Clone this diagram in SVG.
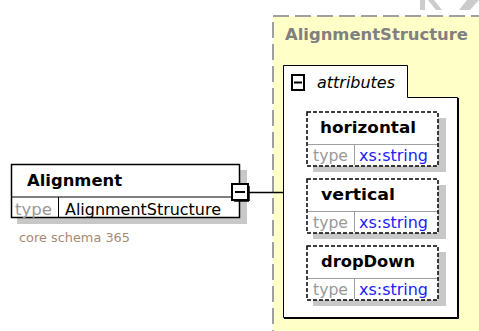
<svg xmlns="http://www.w3.org/2000/svg" width="479" height="331" viewBox="0 0 479 331">
<style>
.t{font-family:"DejaVu Sans",sans-serif}
.b{font-family:"DejaVu Sans",sans-serif;font-weight:bold;font-size:16.5px;fill:#000}
.r{font-family:"DejaVu Sans",sans-serif;font-size:16px}
.gray{fill:#999999}
.blue{fill:#2020ff}
.shadow{fill:#c8c8c8}
.attr{fill:#fff;stroke:#000;stroke-width:1.5;stroke-dasharray:4 2}
.div{stroke:#a0a0a0;stroke-width:1;fill:none}
</style>
<rect width="479" height="331" fill="#fff"/>
<g id="watermark" fill="#cccccc">
<rect x="420" y="0" width="5" height="10"/>
<polygon points="428,0 434,0 442,10 436,10"/>
<polygon points="467,0 479,0 470,10 459,10"/>
</g>
<g id="AlignmentStructure">
<rect x="273" y="16" width="220" height="330" fill="#ffffc8" stroke="#a0a0a0" stroke-width="2" stroke-dasharray="16 6"/>
<text class="b" x="285" y="40" style="fill:#808080" textLength="183" lengthAdjust="spacingAndGlyphs">AlignmentStructure</text>
</g>
<g id="attributes">
<path d="M283.5,65.5 H407.5 V97.5 H457.5 V317.5 H283.5 Z" fill="#fff" stroke="#000" stroke-width="1"/>
<path d="M458.5,98 V318.5 H284" fill="none" stroke="#000" stroke-width="1"/>
<rect x="292" y="75" width="12" height="15" fill="#fff" stroke="#000" stroke-width="2"/>
<line x1="294" y1="82.5" x2="302" y2="82.5" stroke="#000" stroke-width="2"/>
<text class="r" x="317" y="88" font-style="italic" textLength="78" lengthAdjust="spacingAndGlyphs">attributes</text>
</g>
<g id="horizontal">
<rect class="shadow" x="313" y="118" width="133" height="54"/>
<rect class="attr" x="307" y="112" width="131" height="54"/>
<line class="div" x1="308" y1="144.5" x2="437" y2="144.5"/>
<line class="div" x1="354.5" y1="145" x2="354.5" y2="165"/>
<text class="b" x="320" y="133" textLength="96" lengthAdjust="spacingAndGlyphs">horizontal</text>
<text class="r gray" x="313" y="161" textLength="35" lengthAdjust="spacingAndGlyphs">type</text>
<text class="r blue" x="359" y="161" textLength="69" lengthAdjust="spacingAndGlyphs">xs:string</text>
</g>
<g id="vertical">
<rect class="shadow" x="313" y="185" width="133" height="54"/>
<rect class="attr" x="307" y="179" width="131" height="54"/>
<line class="div" x1="308" y1="211.5" x2="437" y2="211.5"/>
<line class="div" x1="354.5" y1="212" x2="354.5" y2="232"/>
<text class="b" x="321" y="200" textLength="74" lengthAdjust="spacingAndGlyphs">vertical</text>
<text class="r gray" x="313" y="228" textLength="35" lengthAdjust="spacingAndGlyphs">type</text>
<text class="r blue" x="359" y="228" textLength="69" lengthAdjust="spacingAndGlyphs">xs:string</text>
</g>
<g id="dropDown">
<rect class="shadow" x="313" y="252" width="133" height="54"/>
<rect class="attr" x="307" y="246" width="131" height="54"/>
<line class="div" x1="308" y1="278.5" x2="437" y2="278.5"/>
<line class="div" x1="354.5" y1="279" x2="354.5" y2="299"/>
<text class="b" x="321" y="267" textLength="94" lengthAdjust="spacingAndGlyphs">dropDown</text>
<text class="r gray" x="313" y="295" textLength="35" lengthAdjust="spacingAndGlyphs">type</text>
<text class="r blue" x="359" y="295" textLength="69" lengthAdjust="spacingAndGlyphs">xs:string</text>
</g>
<g id="connectors">
<line x1="249" y1="192.5" x2="283" y2="192.5" stroke="#000" stroke-width="1.5"/>
</g>
<g id="Alignment">
<rect class="shadow" x="17" y="170" width="230" height="54"/>
<rect x="11.5" y="164.5" width="228" height="53" fill="#fff" stroke="#000" stroke-width="1.5"/>
<line x1="12" y1="197" x2="239" y2="197" stroke="#000" stroke-width="1"/>
<line x1="58.5" y1="197" x2="58.5" y2="217" stroke="#000" stroke-width="1"/>
<text class="b" x="27" y="186" textLength="95" lengthAdjust="spacingAndGlyphs">Alignment</text>
<text class="r gray" x="15" y="215" textLength="37" lengthAdjust="spacingAndGlyphs">type</text>
<text class="r" x="65" y="215" textLength="156" lengthAdjust="spacingAndGlyphs">AlignmentStructure</text>
<rect x="232" y="184" width="16" height="16" fill="#fff" stroke="#000" stroke-width="2"/>
<line x1="249" y1="186" x2="249" y2="201" stroke="#000" stroke-width="1.5"/>
<line x1="234" y1="201" x2="249" y2="201" stroke="#000" stroke-width="1.5"/>
<line x1="235" y1="192" x2="245" y2="192" stroke="#000" stroke-width="2"/>
<text class="t" x="19" y="242" font-size="13" fill="#a88a70" textLength="111" lengthAdjust="spacingAndGlyphs">core schema 365</text>
</g>
</svg>
